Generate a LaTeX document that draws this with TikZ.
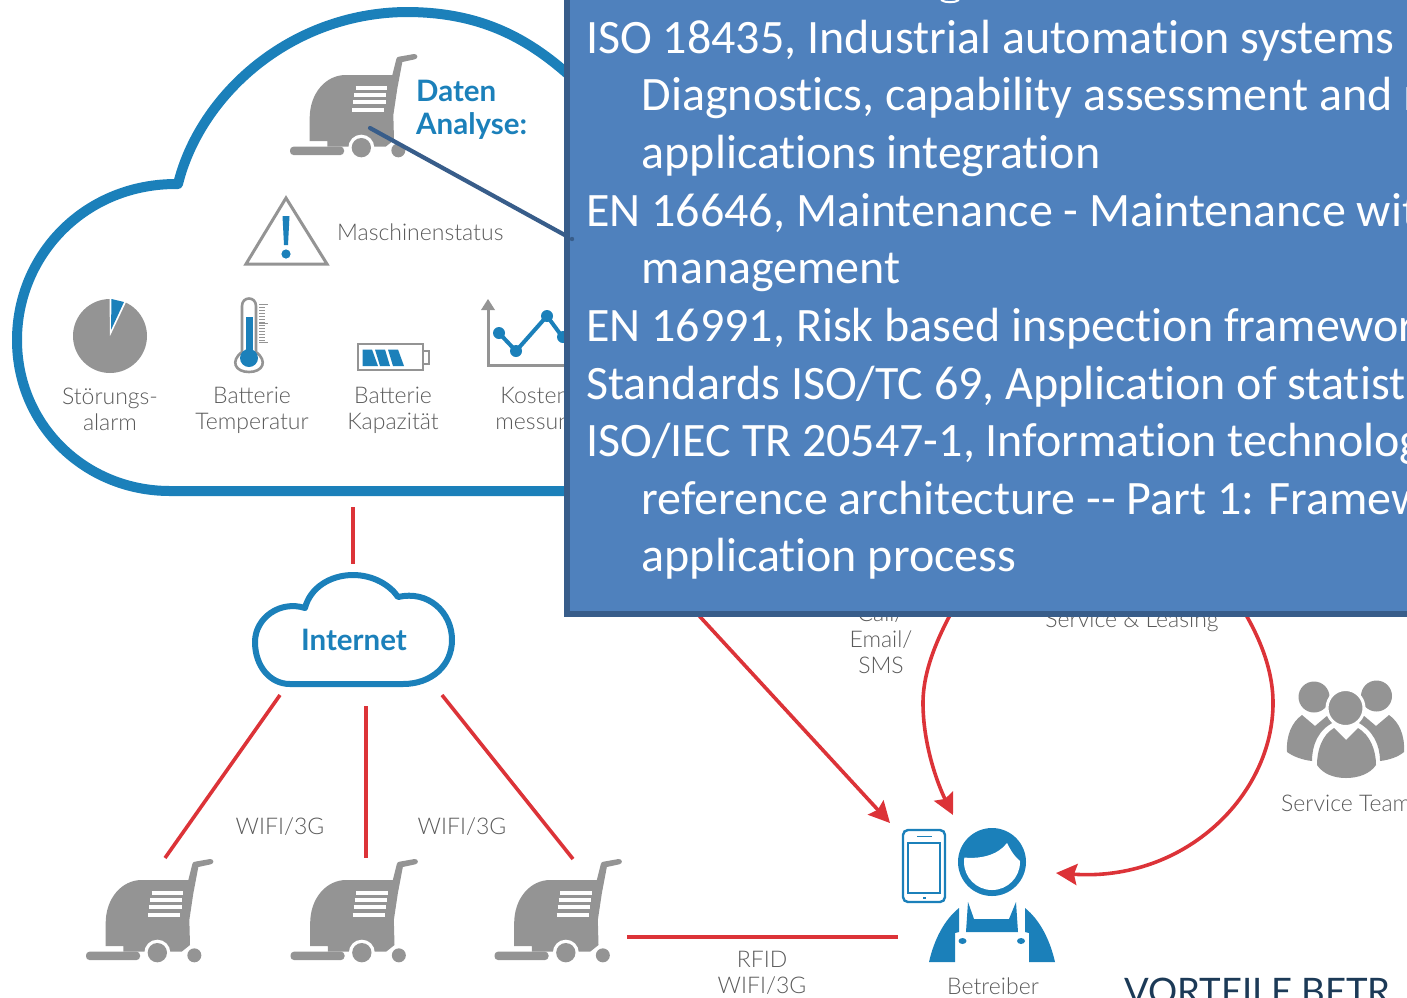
\documentclass[tikz,border=0pt]{standalone}
\usepackage{fontspec}
\setmainfont[Ligatures={NoCommon}]{Carlito}
\newfontfamily\lato{Lato}
\newfontfamily\latolight{Lato Light}
\usetikzlibrary{arrows.meta}
\definecolor{cloudblue}{HTML}{1B80BA}
\definecolor{icongray}{HTML}{949494}
\definecolor{labelgray}{HTML}{5A5A5A}
\definecolor{linkred}{HTML}{DC3338}
\definecolor{boxfill}{HTML}{4F81BD}
\definecolor{boxedge}{HTML}{385D8A}
\definecolor{navy}{HTML}{1C3A57}
\newcommand\sweeper[2]{%
 \begin{scope}[shift={(#1,#2)},x=.33333pt,y=-.33333pt]
  \fill[icongray] (137,378) -- (137,310) .. controls (137,235) and (185,180) .. (245,180)
    -- (385,180) -- (397,132) .. controls (398,127) and (401,126) .. (405,125)
    -- (450,117) .. controls (462,116) and (464,131) .. (452,133) -- (415,141)
    -- (400,220) -- (388,300) -- (390,375) -- (365,395) -- (240,395) -- (190,395) -- (190,378) -- cycle;
  \fill[icongray,rounded corners=3.5pt] (78,395) rectangle (240,420);
  \fill[white] (292,398) circle[radius=39];
  \fill[icongray] (292,398) circle[radius=29];
  \fill[white] (403,406) circle[radius=26];
  \fill[icongray] (403,406) circle[radius=21];
  \draw[white,line width=4pt] (275,218) -- (370,218) (270,240) -- (367,240) (267,262) -- (365,262) (264,284) -- (360,284);
 \end{scope}}
\tikzset{
 x=1pt,y=-1pt,
 lab/.style={font=\latolight\fontsize{23}{26}\selectfont,text=labelgray,inner sep=0pt,align=center},
 boxline/.style={anchor=base west,font=\fontsize{48}{50}\selectfont,text=white,inner sep=0pt},
 link/.style={draw=linkred,line width=3.6pt},
 tip/.style={-{Stealth[length=21pt,width=21pt,inset=3pt]}},
 cloudline/.style={draw=cloudblue,line cap=round,line join=round},
 ggray/.style={draw=icongray,line width=3pt}
}
\begin{document}
\begin{tikzpicture}
\useasboundingbox (0,0) rectangle (1407,997);
% big cloud
\draw[cloudline,line width=10pt] (620,491) -- (170,491)
  .. controls (85,491) and (17,425) .. (17,340)
  .. controls (17,255) and (85,183) .. (178,184)
  .. controls (200,95) and (290,13) .. (406,12)
  .. controls (490,12) and (540,45) .. (590,95);
% top machine and labels
\sweeper{264}{15}
\node[lab,anchor=west,align=left,text=cloudblue,font=\lato\bfseries\fontsize{29.5}{33}\selectfont] (daten) at (416,110) {Daten\\Analyse:};
% warning triangle
\draw[ggray,line join=miter] (286,198) -- (327,264) -- (246,264) -- cycle;
\fill[cloudblue] (282.5,216) -- (289.5,216) -- (288,245) -- (284,245) -- cycle;
\fill[cloudblue] (286,254) circle[radius=4.6];
\node[lab,anchor=west] (status) at (337,232) {Maschinenstatus};
% pie
\fill[icongray] (110,336) circle[radius=37];
\fill[white] (110,336) -- (109.5,298) -- (127,300) -- cycle;
\fill[cloudblue] (111,330) -- (111.5,299) -- (124,302) -- cycle;
\node[lab] (stoer) at (110,409) {Störungs-\\alarm};
% thermometer
\draw[ggray,line width=2.6pt,fill=white] (242,352) -- (242,306) .. controls (242,296) and (256,296) .. (256,306) -- (256,352)
  .. controls (268,361) and (263,372) .. (249,372) .. controls (235,372) and (230,361) .. (242,352);
\fill[cloudblue] (245.5,317) rectangle (252.5,350);
\fill[cloudblue] (249,358) circle[radius=9];
\draw[icongray,line width=1pt] (259,304) -- (268,304) (259,342) -- (268,342) (259,323) -- (268,323);
\foreach \yy in {307,310,...,340} \draw[icongray,line width=.8pt] (259,\yy) -- (265,\yy);
\node[lab] (temp) at (252,410.5) {Batterie\\Temperatur};
% battery
\draw[ggray,line width=2.6pt] (358,344) rectangle (423,370);
\draw[ggray,line width=2pt] (423,351) -- (429,351) -- (429,364) -- (423,364);
\fill[cloudblue] (362.5,349.5) -- (372,349.5) -- (378,366) -- (362.5,366) -- cycle
                 (375,349.5) -- (385,349.5) -- (390,366) -- (380,366) -- cycle
                 (388,349.5) -- (398,349.5) -- (404,366) -- (393,366) -- cycle;
\node[lab] (kap) at (393,410.5) {Batterie\\Kapazität};
% chart
\draw[ggray] (488,305) -- (488,365.5) -- (600,365.5);
\fill[icongray] (488,299) -- (495,310) -- (481,310) -- cycle;
\draw[cloudblue,line width=4pt] (499,333) -- (516,351) -- (547,316) -- (572,350);
\foreach \px/\py in {499/333,516/351,547/316,563/337} \fill[cloudblue] (\px,\py) circle[radius=6];
\node[lab] (kost) at (539,410.5) {Kosten-\\messung};
% internet cloud
\draw[cloudline,line width=6pt] (290,684) -- (403,684)
  .. controls (432,684) and (452,665) .. (452,640)
  .. controls (452,612) and (428,590) .. (398,597)
  .. controls (390,585) and (373,575) .. (353,575)
  .. controls (330,575) and (310,588) .. (305,608)
  .. controls (280,600) and (255,618) .. (255,642)
  .. controls (255,666) and (270,684) .. (290,684);
\node[font=\lato\bfseries\fontsize{29.5}{30}\selectfont,text=cloudblue,inner sep=0pt] (inet) at (354,640) {Internet};
% machines
\sweeper{60}{820}
\sweeper{264.5}{820}
\sweeper{468.5}{820}
% connector ends
\coordinate (c1) at (353,507); \coordinate (i1) at (353,564);
\coordinate (i2) at (280,695); \coordinate (m1) at (165,858);
\coordinate (i3) at (366,706); \coordinate (m2) at (366,858);
\coordinate (i4) at (442,695); \coordinate (m3) at (573,859);
\coordinate (m4) at (627,937); \coordinate (b1) at (898,937);
\coordinate (a0) at (680,595); \coordinate (a1) at (890,823);
\coordinate (l0) at (960,597); \coordinate (l1) at (953,815);
\coordinate (r0) at (1235,597); \coordinate (r1) at (1056,873);
\draw[link] (c1) -- (i1);
\draw[link] (i2) -- (m1);
\draw[link] (i3) -- (m2);
\draw[link] (i4) -- (m3);
\draw[link] (m4) -- (b1);
\draw[link,tip] (a0) -- (a1);
\draw[link,tip] (l0) .. controls (938,635) and (923,670) .. (923,703) .. controls (923,745) and (938,785) .. (l1);
\draw[link,tip] (r0) .. controls (1260,635) and (1273,670) .. (1273,703) .. controls (1273,795) and (1185,882) .. (r1);
\node[lab] at (280,827) {WIFI/3G};
\node[lab] at (462,827) {WIFI/3G};
\node[lab] at (762,973) {RFID\\WIFI/3G};
\node[lab] at (881,639.5) {Call/\\Email/\\SMS};
\node[lab] at (1132,621.5) {Service \& Leasing};
\node[lab] at (993,986) {Betreiber};
\node[lab,anchor=west] at (1281,803) {Service Team};
\node[anchor=base west,inner sep=0pt,font=\lato\fontsize{36.5}{40}\selectfont,text=navy] at (1124,1004) {VORTEILE BETR};
% service team icon
\fill[icongray] (1314,697) circle[radius=15.5];
\fill[icongray] (1376.5,696) circle[radius=15.5];
\fill[icongray] (1287,752) .. controls (1286,735) and (1292,722) .. (1302,715) -- (1315,726) -- (1328,715) -- (1334,722)
  .. controls (1318,730) and (1312,745) .. (1312,761) .. controls (1303,760) and (1294,757) .. (1287,752) -- cycle;
\fill[icongray] (1404,752) .. controls (1405,735) and (1399,722) .. (1389,715) -- (1376,726) -- (1363,715) -- (1357,722)
  .. controls (1373,730) and (1380,745) .. (1380,761) .. controls (1389,760) and (1398,757) .. (1404,752) -- cycle;
\filldraw[fill=icongray,draw=white,line width=3pt] (1345.5,708) circle[radius=18.5];
\fill[icongray] (1317,765) .. controls (1317,750) and (1322,735) .. (1334,728) -- (1346,740) -- (1358,728)
  .. controls (1370,735) and (1376,750) .. (1376,765) .. controls (1370,774) and (1358,778) .. (1346,778)
  .. controls (1334,778) and (1323,774) .. (1317,765) -- cycle;
% operator
\draw[cloudblue,line width=2.4pt,rounded corners=5pt] (903,830) rectangle (945,902);
\draw[cloudblue,line width=1.8pt] (908,843) rectangle (940,893);
\draw[cloudblue,line width=1.8pt] (917,836.5) -- (932,836.5) (923,898) -- (926,898);
\fill[cloudblue] (992,862) circle[radius=34];
\begin{scope}
 \clip (992,862) circle[radius=28];
 \fill[white] (960,857) .. controls (980,860) and (998,855) .. (1007,843)
   .. controls (1011,851) and (1015,858) .. (1024,864) -- (1024,895) -- (960,895) -- cycle;
\end{scope}
\fill[cloudblue] (929,962) .. controls (934,940) and (944,920) .. (959,908) -- (959,932) -- (955,933) -- (955,962) -- cycle;
\fill[cloudblue] (1055,962) .. controls (1050,940) and (1040,920) .. (1025,908) -- (1025,932) -- (1029,933) -- (1029,962) -- cycle;
\fill[cloudblue] (968,902) -- (974,919) -- (1009,919) -- (1016,902) -- (1018,932) -- (966,932) -- cycle;
\fill[cloudblue] (962.5,941) ellipse[x radius=4,y radius=3];
\fill[cloudblue] (1021,941) ellipse[x radius=4,y radius=3];
% callout leader and box
\draw[boxedge,line width=4.2pt,line cap=round] (370,128) -- (572,239);
\path[fill=boxfill,draw=boxedge,line width=6pt] (567,-10) rectangle (1420,614);
\fill[boxedge] (572,239) circle[radius=2.2];
\draw[white,line width=2pt] (941,0) .. controls (945,3) and (955,3) .. (959,0);
\node[boxline] (t1) at (586,53) {ISO 18435, Industrial automation systems a};
\node[boxline] (t2) at (641.5,110.5) {Diagnostics, capability assessment and m};
\node[boxline] (t3) at (641.5,168) {applications integration};
\node[boxline] (t4) at (586,226) {EN 16646, Maintenance - Maintenance wit};
\node[boxline] (t5) at (641.5,283) {management};
\node[boxline] (t6) at (586,341) {EN 16991, Risk based inspection framewor};
\node[boxline] (t7) at (586,399) {Standards ISO/TC 69, Application of statist};
\node[boxline] (t8) at (586,456) {ISO/IEC TR 20547-1, Information technolog};
\node[boxline] (t9) at (641.5,514) {reference architecture -{}- Part 1: Framew};
\node[boxline] (t10) at (641.5,571) {application process};
\end{tikzpicture}
\end{document}
